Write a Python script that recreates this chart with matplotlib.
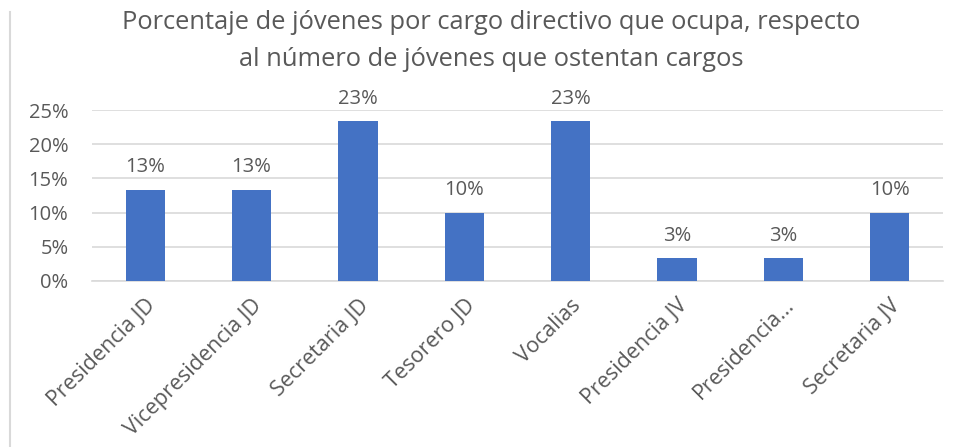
#!/usr/bin/env python

import matplotlib.pyplot as plt
from matplotlib.lines import Line2D
from matplotlib.ticker import PercentFormatter
from matplotlib.transforms import ScaledTranslation

cargos = [
    "Presidencia JD",
    "Vicepresidencia JD",
    "Secretaria JD",
    "Tesorero JD",
    "Vocalias",
    "Presidencia JV",
    "Presidencia...",
    "Secretaria JV",
]
porcentajes = [13.33, 13.33, 23.33, 10.0, 23.33, 3.33, 3.33, 10.0]
yticks = [0, 5, 10, 15, 20, 25]

BLUE = "#4472C4"
GREY = "#595959"
GRID = "#D9D9D9"

plt.rcParams["font.family"] = ["Open Sans", "DejaVu Sans"]


def main():
    fig = plt.figure(figsize=(9.56, 4.47), dpi=100)
    ax = fig.add_axes([92 / 956, 1 - 281 / 447, 851 / 956, 171 / 447])

    x = range(len(cargos))
    bars = ax.bar(x, porcentajes, width=0.37, color=BLUE, zorder=3)
    for b, v in zip(bars, porcentajes):
        ax.annotate(f"{round(v)}%", (b.get_x() + b.get_width() / 2, v),
                    xytext=(0, 9), textcoords="offset points",
                    ha="center", va="bottom", fontsize=14.5, color=GREY)

    ax.set_xlim(-0.5, len(cargos) - 0.5)
    ax.set_ylim(0, 25)
    ax.set_yticks(yticks)
    ax.yaxis.set_major_formatter(PercentFormatter(decimals=0))
    ax.set_xticks(list(x))
    ax.set_xticklabels(cargos, rotation=45, ha="right", rotation_mode="anchor")
    shift = ScaledTranslation(6 / 72, 0, fig.dpi_scale_trans)
    for lab in ax.get_xticklabels():
        lab.set_transform(lab.get_transform() + shift)
    ax.tick_params(axis="both", length=0, labelcolor=GREY)
    ax.tick_params(axis="x", pad=10, labelsize=15.5)
    ax.tick_params(axis="y", pad=17, labelsize=14.5)
    ax.grid(axis="y", color=GRID, linewidth=1.2, zorder=0)
    for side in ["top", "right", "left"]:
        ax.spines[side].set_visible(False)
    ax.spines["bottom"].set_color(GRID)
    ax.spines["bottom"].set_linewidth(1.2)

    fig.text(491 / 956, 1 - 41 / 447,
             "Porcentaje de jóvenes por cargo directivo que ocupa, respecto\n"
             "al número de jóvenes que ostentan cargos",
             ha="center", va="center", fontsize=18.4, color=GREY, linespacing=1.6)

    # marco del gráfico a la izquierda
    fig.add_artist(Line2D([10 / 956, 10 / 956], [0, 1 - 12 / 447],
                          transform=fig.transFigure, color=GRID, linewidth=1.5))

    fig.savefig("out.png", dpi=100)


if __name__ == "__main__":
    main()
